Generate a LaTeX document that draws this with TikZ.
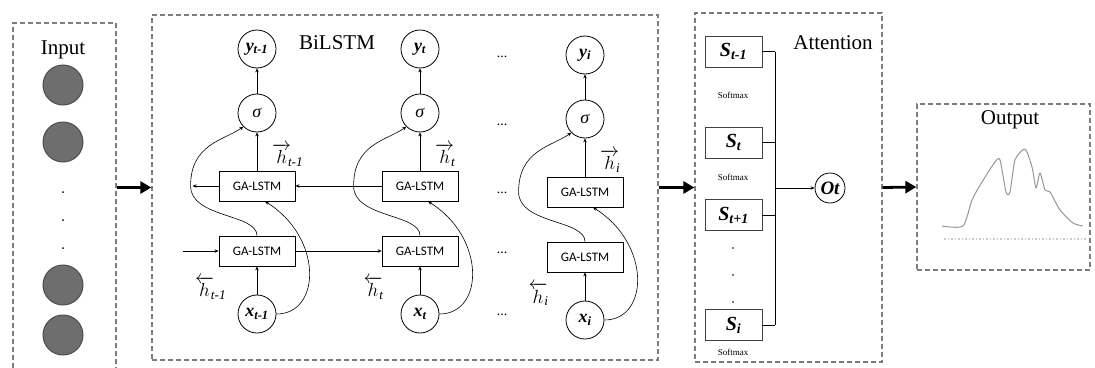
\RequirePackage{fix-cm}
\documentclass[tikz,border=0pt]{standalone}
\usepackage{amsmath}
\usepackage{fontspec}
\setmainfont{Liberation Serif}
\newfontfamily\calib{Carlito}
\usetikzlibrary{arrows.meta, calc, positioning}
\definecolor{dashgray}{RGB}{125,125,125}
\definecolor{ballgray}{RGB}{110,110,110}
\definecolor{plotgray}{RGB}{150,150,150}

\begin{document}
\begin{tikzpicture}[x=1pt, y=-1pt,
  panel/.style={draw=dashgray, line width=1.3pt, dash pattern=on 5pt off 3pt, inner sep=0pt},
  ball/.style={circle, fill=ballgray, draw=ballgray!70!black, line width=1pt, minimum size=40pt, inner sep=0pt},
  unit/.style={draw, circle, line width=0.8pt, minimum size=38pt, inner sep=0pt, font=\fontsize{18}{20}\selectfont},
  gabox/.style={draw, line width=0.8pt, minimum width=76pt, minimum height=30pt, inner sep=0pt, font=\calib\fontsize{13}{15}\selectfont},
  sbox/.style={draw=black!75, line width=0.9pt, minimum width=57pt, minimum height=31pt, inner sep=0pt, font=\fontsize{20}{22}\selectfont\bfseries\itshape},
  conn/.style={-{Stealth[length=4pt,width=3.5pt]}, line width=0.6pt},
  bigarrow/.style={-{Triangle[length=11pt,width=12pt]}, line width=2.8pt},
  title/.style={font=\fontsize{21}{24}\selectfont},
  hlab/.style={font=\fontsize{19}{20}\selectfont, inner sep=1pt},
  smx/.style={font=\fontsize{9}{10}\selectfont}]
  \useasboundingbox (0,0) rectangle (1095,367);

  % panels
  \node[panel, minimum width=103pt, minimum height=350pt] (inbox) at (64.5,198) {};
  \node[panel, minimum width=506pt, minimum height=345pt] (bibox) at (405,187.5) {};
  \node[panel, minimum width=187pt, minimum height=349pt] (attbox) at (788.5,187.5) {};
  \node[panel, minimum width=173pt, minimum height=166pt] (outbox) at (1003.5,187) {};
  \node[title] (intitle) at (63,50) {Input};
  \node[title] (bititle) at (337,43) {BiLSTM};
  \node[title] (atttitle) at (833,43) {Attention};
  \node[title] (outtitle) at (1010,120) {Output};

  % input layer
  \foreach \yy [count=\k] in {85,142,285,335} \node[ball] (b\k) at (63,\yy) {};
  \foreach \yy in {192,220,248} \fill (63,\yy) circle (1);

  % BiLSTM columns
  \foreach \c/\cx/\dy/\sub in {1/257/0/t-1, 2/420/0/t, 3/585/6/i} {
    \node[unit] (y\c) at (\cx,{49+\dy}) {\textbf{\textit{y\textsubscript{\sub}}}};
    \node[unit] (s\c) at (\cx,{113+\dy}) {\textit{σ}};
    \node[gabox] (up\c) at (\cx,{186+\dy}) {GA-LSTM};
    \node[gabox] (lo\c) at (\cx,{251+\dy}) {GA-LSTM};
    \node[unit] (x\c) at (\cx,{314+\dy}) {\textbf{\textit{x\textsubscript{\sub}}}};
    \node[hlab, anchor=west] (hr\c) at ($(up\c.north)+(14,-16)$) {$\overrightarrow{h}\mkern-3mu{}_{\textit{\sub}}$};
    \node[hlab] (hl\c) at ($(lo\c.south west)+(-8,22)$) {$\overleftarrow{h}\mkern-3mu{}_{\textit{\sub}}$};
    \draw[conn] (x\c) -- (lo\c);
    \draw[conn] (up\c) -- (s\c);
    \draw[conn] (s\c) -- (y\c);
    \draw[conn] (lo\c.north) .. controls +(0,-22) and +(0,32) .. ([xshift=-28pt]up\c.west)
      .. controls +(0,-42) and +(-20,14) .. (s\c.south west);
    \draw[conn] (x\c.east) .. controls +(45,0) and +(58,36) .. ([xshift=8pt]up\c.south);
  }
  \draw[conn] (up2.west) -- (up1.east);
  \draw[conn] (up1.west) -- ++(-26,0);
  \draw[conn] ([xshift=-36pt]lo1.west) -- (lo1.west);
  \draw[conn] (lo1.east) -- (lo2.west);
  \foreach \yy [count=\k] in {57,125,193,253,315} \node[font=\fontsize{14}{14}\selectfont] (dd\k) at (502,\yy) {...};

  % attention
  \node[sbox] (sa) at (733.5,51.5) {S\textsubscript{t-1}};
  \node[sbox] (sb) at (733.5,142.5) {S\textsubscript{t}};
  \node[sbox] (sc) at (733.5,215) {S\textsubscript{t+1}};
  \node[sbox] (sd) at (733.5,325) {S\textsubscript{i}};
  \node[smx] (sm1) at (733,95) {Softmax};
  \node[smx] (sm2) at (733,177) {Softmax};
  \node[smx] (sm3) at (733,352) {Softmax};
  \foreach \yy in {248,275,302} \fill (733,\yy) circle (0.9);
  \node[unit, minimum size=30pt, font=\fontsize{19}{20}\selectfont\bfseries\itshape] (ot) at (830,188) {Ot};
  \coordinate (bus) at (775,188);
  \foreach \n in {sa,sb,sc,sd} \draw[line width=0.8pt] (\n.east) -- (\n.east -| bus);
  \draw[line width=0.8pt] (sa.east -| bus) -- (sd.east -| bus);
  \draw[conn, line width=0.8pt] (bus) -- (ot);

  % output curve
  \draw[black!20, dotted, line width=1.5pt] (944,239) -- (1087,239);
  \draw[plotgray, line width=1pt, line join=round] plot[smooth, tension=0.4] coordinates {(942,226) (963,226) (972,200)
    (982,182) (995,162) (1000,160) (1006,192) (1010,192) (1015,160) (1025,149) (1032,167)
    (1036,188) (1040,173) (1045,190) (1050,192) (1060,210) (1073,223) (1083,226)};

  % flow arrows
  \draw[bigarrow] (inbox.east |- bibox.west) -- (bibox.west);
  \draw[bigarrow] (bibox.east) -- (attbox.west);
  \draw[bigarrow] (attbox.east) -- (outbox.west);
\end{tikzpicture}
\end{document}
